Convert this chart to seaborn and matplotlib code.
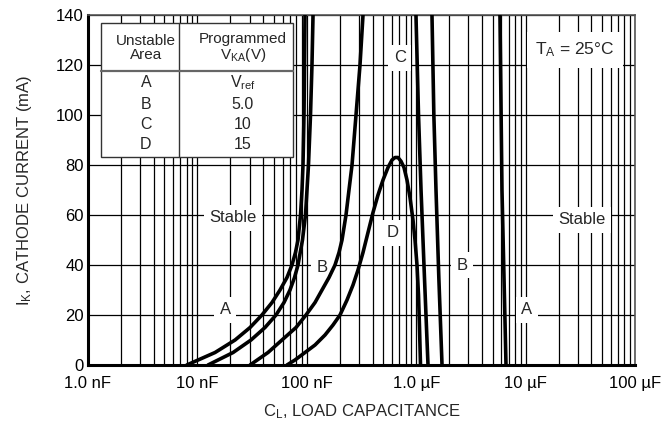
import numpy as np
import pandas as pd
import matplotlib
matplotlib.use("Agg")
import matplotlib.pyplot as plt
import seaborn as sns
from matplotlib.ticker import LogLocator, FixedLocator, FixedFormatter, NullFormatter

# Stability boundary curves, capacitance in nF, cathode current in mA
a_left_c = [8.0, 14.5, 22.1, 30.3, 38.9, 48.1, 56.9, 65.9, 73.2, 78.8, 83.1, 87.6, 90.4, 92.3, 94.3, 95.3, 96.3]
a_left_i = [0, 5, 10, 15, 20, 25, 30, 35, 40, 45, 50, 60, 70, 80, 100, 120, 140]
c_left_c = [12.5, 21.2, 30.9, 41.5, 52.3, 61.9, 70.2, 77.2, 83.1, 91.3, 97.3, 103.6, 108.1, 111.5, 114.0]
c_left_i = [0, 5, 10, 15, 20, 25, 30, 35, 40, 50, 60, 80, 100, 120, 140]
b_left_c = [30.3, 44.2, 59.3, 79.7, 98.3, 118.9, 137.7, 159.6, 181.1, 197.0, 209.8, 228.2, 243.0, 259.0,
            270.1, 281.7, 306.4, 326.4]
b_left_i = [0, 5, 10, 15, 20, 25, 30, 35, 40, 45, 50, 60, 70, 80, 90, 100, 120, 140]
d_c = [65.9, 78.0, 96.3, 118.9, 146.7, 173.6, 201.2, 233.1, 264.5, 293.8, 326.4, 362.6, 402.9, 447.5,
       497.2, 552.4, 600.8, 640.2, 681.9, 726.3, 773.6, 823.9, 877.6, 934.8, 975.0, 1016.9, 1049.6,
       1072.0, 1094.8]
d_i = [0, 2, 5, 8, 12, 16, 20, 26, 32, 38, 45, 53, 61, 68, 74, 79, 82, 83, 83, 81.5, 79, 74, 67, 58,
       50, 40, 28, 15, 0]
c_right_c = [995, 1050, 1107, 1190, 1282]
c_right_i = [140, 100, 70, 35, 0]
b_right_c = [1394, 1450, 1517, 1610, 1722]
b_right_i = [140, 100, 70, 35, 0]
a_right_c = [5830, 6083, 6620]
a_right_i = [140, 70, 0]

x_ticks = [1, 10, 100, 1000, 10000, 100000]
x_tick_labels = ["1.0 nF", "10 nF", "100 nF", "1.0 \u00b5F", "10 \u00b5F", "100 \u00b5F"]
y_ticks = [0, 20, 40, 60, 80, 100, 120, 140]

table_area = ["A", "B", "C", "D"]
table_vka = ["V$_{ref}$", "5.0", "10", "15"]

sns.set_style("white")
plt.rcParams["font.family"] = ["Liberation Sans Narrow", "Liberation Sans", "DejaVu Sans"]
plt.rcParams["mathtext.default"] = "regular"

fig = plt.figure(figsize=(6.64, 4.30), dpi=100)
ax = fig.add_axes([88 / 664, 1 - 365 / 430, 547 / 664, 350 / 430])

curves = [(a_left_c, a_left_i), (c_left_c, c_left_i), (b_left_c, b_left_i),
          (d_c, d_i), (c_right_c, c_right_i), (b_right_c, b_right_i),
          (a_right_c, a_right_i)]
for cx, cy in curves:
    df = pd.DataFrame({"cap": cx, "ik": cy})
    sns.lineplot(data=df, x="cap", y="ik", sort=False, estimator=None,
                 color="black", lw=2.6, ax=ax, zorder=3)

ax.set_xscale("log")
ax.set_xlim(1, 100000)
ax.set_ylim(0, 140)

ax.xaxis.set_major_locator(FixedLocator(x_ticks))
ax.xaxis.set_major_formatter(FixedFormatter(x_tick_labels))
ax.xaxis.set_minor_locator(LogLocator(base=10, subs=np.arange(2, 10)))
ax.xaxis.set_minor_formatter(NullFormatter())
ax.set_yticks(y_ticks)
ax.tick_params(axis="both", which="both", length=0, labelsize=12, colors="black")
ax.tick_params(axis="x", pad=8)
ax.tick_params(axis="y", pad=3)

ax.grid(True, which="both", axis="x", color="black", lw=0.9)
ax.grid(True, which="major", axis="y", color="black", lw=0.9)
ax.set_axisbelow(True)

for side in ["left", "bottom"]:
    ax.spines[side].set_linewidth(2.2)
    ax.spines[side].set_color("black")
for side in ["top", "right"]:
    ax.spines[side].set_linewidth(1.2)
    ax.spines[side].set_color("#555555")

ax.set_xlabel("C$_L$, LOAD CAPACITANCE", fontsize=12, labelpad=8)
ax.set_ylabel("I$_K$, CATHODE CURRENT (mA)", fontsize=12, labelpad=16)

# Region labels with white boxes over the grid (kept under the curves)
box = dict(facecolor="white", edgecolor="none", pad=4)
labels = [("Stable", 21, 59), ("A", 18, 22), ("B", 138, 39), ("C", 711, 123),
          ("D", 613, 53), ("B", 2623, 40), ("A", 10300, 22), ("Stable", 32700, 58)]
for txt, lx, ly in labels:
    ax.text(lx, ly, txt, fontsize=12, ha="center", va="center", bbox=box, zorder=2.5)

ax.text(28300, 126, "T$_A$ = 25\u00b0C", fontsize=12.5, ha="center", va="center",
        bbox=dict(facecolor="white", edgecolor="none", pad=6), zorder=2.5)

# Legend table
tx0, tx1, ty0, ty1 = 0.0238, 0.3748, 0.594, 0.977
ax.add_patch(plt.Rectangle((tx0, ty0), tx1 - tx0, ty1 - ty0, transform=ax.transAxes,
                           facecolor="white", edgecolor="#333333", lw=1.0, zorder=5))
ax.plot([0.1664, 0.1664], [ty0, ty1], transform=ax.transAxes, color="#333333", lw=1.0, zorder=6)
ax.plot([tx0, tx1], [0.84, 0.84], transform=ax.transAxes, color="#666666", lw=1.6, zorder=6)
ax.text(0.106, 0.906, "Unstable\nArea", transform=ax.transAxes, fontsize=11,
        ha="center", va="center", linespacing=1.0, zorder=7)
ax.text(0.283, 0.906, "Programmed\nV$_{KA}$(V)", transform=ax.transAxes, fontsize=11,
        ha="center", va="center", linespacing=1.0, zorder=7)
row_y = [0.806, 0.743, 0.686, 0.629]
for area, vka, ry in zip(table_area, table_vka, row_y):
    ax.text(0.106, ry, area, transform=ax.transAxes, fontsize=11.5, ha="center", va="center", zorder=7)
    ax.text(0.283, ry, vka, transform=ax.transAxes, fontsize=11.5, ha="center", va="center", zorder=7)

fig.savefig("out.png", dpi=100)
